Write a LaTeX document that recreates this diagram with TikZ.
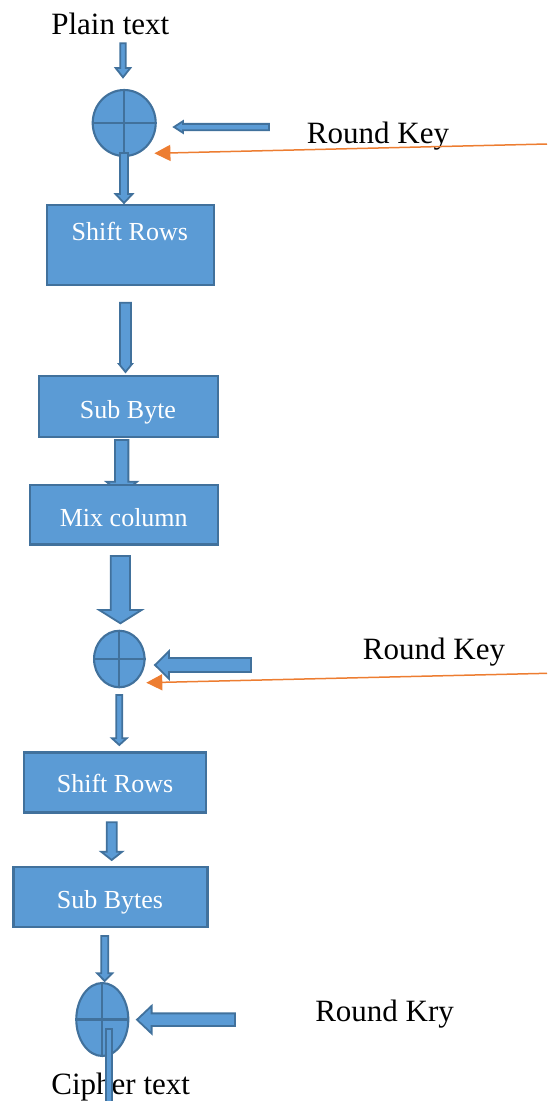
\documentclass[tikz,border=0pt]{standalone}
\usepackage{fontspec}
\setmainfont{Liberation Serif}
\usetikzlibrary{shapes.geometric,arrows.meta}
\definecolor{bfill}{HTML}{5B9BD5}
\definecolor{bline}{HTML}{41719C}
\definecolor{okey}{HTML}{ED7D31}
\tikzset{
 blk/.style={draw=bline,fill=bfill,line width=2.1pt},
 stepbox/.style={blk,rectangle,inner sep=0pt},
 xorn/.style={blk,ellipse,inner sep=0pt},
 crossln/.style={draw=bline,line width=2.1pt},
 bigtxt/.style={font=\fontsize{31}{37}\selectfont,text=black,inner sep=0pt,anchor=base},
 boxtxt/.style={font=\fontsize{26}{31}\selectfont,text=white,inner sep=0pt,anchor=base},
 keyln/.style={draw=okey,line width=1.5pt,-{Triangle[length=16pt,width=16pt]}},
 fat/.style={blk,line width=1.8pt,line join=miter},
}
\newcommand\fatdown[6]{% cx, ytop, yhead, ytip, shaftw, headw
 \path[fat] ({#1-#5/2},#2) -- ({#1+#5/2},#2) -- ({#1+#5/2},#3) -- ({#1+#6/2},#3) -- (#1,#4) -- ({#1-#6/2},#3) -- ({#1-#5/2},#3) -- cycle;}
\newcommand\fatleft[6]{% cy, xright, xhead, xtip, shaftw, headw
 \path[fat] (#2,{#1-#5/2}) -- (#2,{#1+#5/2}) -- (#3,{#1+#5/2}) -- (#3,{#1+#6/2}) -- (#4,#1) -- (#3,{#1-#6/2}) -- (#3,{#1-#5/2}) -- cycle;}
\begin{document}
\begin{tikzpicture}[x=1pt,y=-1pt]
\useasboundingbox (0,0) rectangle (547,1101);
% texts outside
\node[bigtxt] (plain) at (110.3,34) {Plain text};
\node[bigtxt] (rk1) at (378,143.3) {Round Key};
\node[bigtxt] (rk2) at (434,659) {Round Key};
\node[bigtxt] (rk3) at (384.6,1021.7) {Round Kry};
% first XOR
\fatdown{123}{43.3}{68}{77.3}{5.4}{14.7}
\node[xorn,minimum width=63pt,minimum height=66pt] (xor1) at (124.2,123) {};
\draw[crossln] (xor1.north) -- (xor1.south) (xor1.west) -- (xor1.east);
\fatleft{127}{269}{183}{174}{6.3}{11.6}
\coordinate (k1) at (547,144);
\coordinate (t1) at (154.4,153.3);
\draw[keyln] (k1) -- (t1);
\fatdown{124}{153}{194}{203}{8}{17}
% Shift Rows 1
\node[stepbox,minimum width=167.5pt,minimum height=79.6pt] (sr1) at (130.4,245) {};
\node[boxtxt] (sr1t) at (129.8,240) {Shift Rows};
\fatdown{125.5}{302.7}{364}{372}{11}{13}
% Sub Byte
\node[stepbox,minimum width=179.5pt,minimum height=61pt] (sb1) at (128.4,406.4) {};
\node[boxtxt] (sb1t) at (128,418.3) {Sub Byte};
\fatdown{121.7}{440}{481.7}{494}{13.3}{30.7}
% Mix column
\node[stepbox,minimum width=188pt,minimum height=59.3pt] (mc) at (124.2,514.8) {};
\node[boxtxt] (mct) at (123.8,526.7) {Mix column};
\fatdown{120.4}{556}{610}{623.3}{19.2}{42.4}
% second XOR
\node[xorn,minimum width=50.5pt,minimum height=56.5pt] (xor2) at (119.3,659) {};
\draw[crossln] (xor2.north) -- (xor2.south) (xor2.west) -- (xor2.east);
\fatleft{665}{251}{169}{155}{14}{27.6}
\coordinate (k2) at (547,673.3);
\coordinate (t2) at (146.3,682.7);
\draw[keyln] (k2) -- (t2);
\fatdown{119.3}{695}{738.3}{745}{6}{14.7}
% Shift Rows 2
\node[stepbox,minimum width=182pt,minimum height=60pt] (sr2) at (115.2,782.5) {};
\node[boxtxt] (sr2t) at (115,792.7) {Shift Rows};
\fatdown{111.7}{822.3}{851.7}{860}{10}{21}
% Sub Bytes
\node[stepbox,minimum width=194pt,minimum height=60pt] (sb2) at (110.5,896.9) {};
\node[boxtxt] (sb2t) at (110,908.3) {Sub Bytes};
\fatdown{104.7}{936}{973.3}{981}{7}{15}
% third XOR
\node[xorn,minimum width=52pt,minimum height=73pt] (xor3) at (102.3,1019.5) {};
\draw[crossln] (xor3.north) -- (xor3.south) (xor3.west) -- (xor3.east);
\fatleft{1019.7}{235}{151.6}{137}{12.7}{27.6}
\node[bigtxt] (cipher) at (120.7,1094.3) {Cipher text};
\path[fat] (106.3,1029.3) -- (112.2,1029.3) -- (112.2,1103) -- (106.3,1103) -- cycle;
\end{tikzpicture}
\end{document}
